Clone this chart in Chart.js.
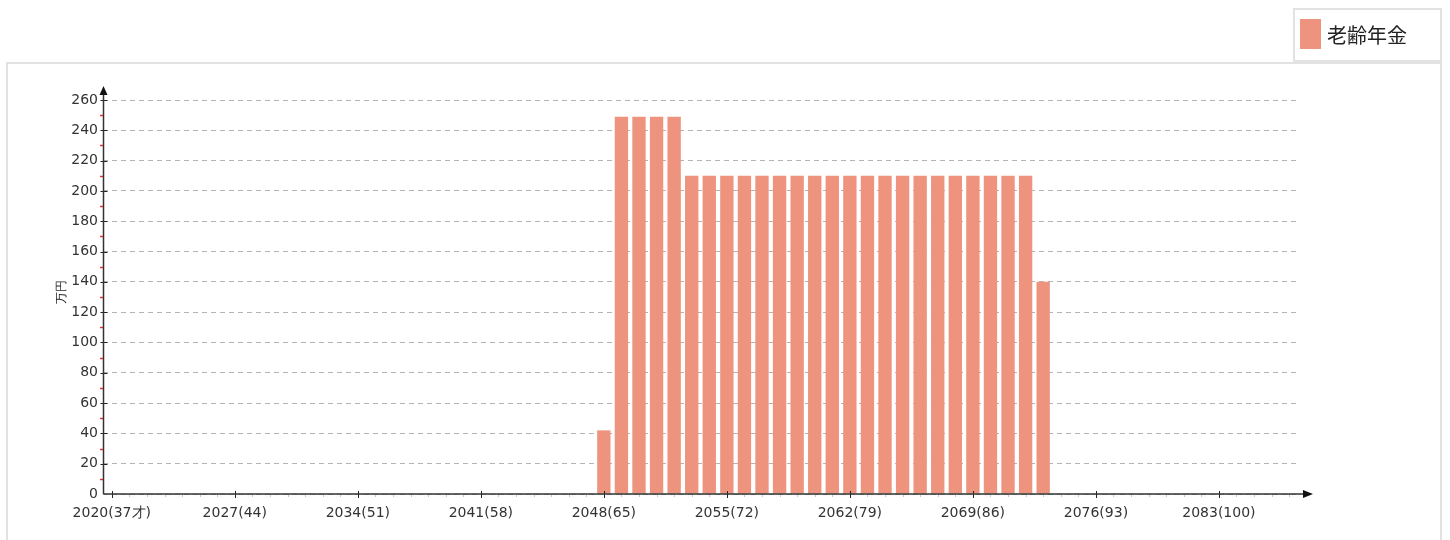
<!DOCTYPE html>
<html>
<head>
<meta charset="utf-8">
<script src="https://cdn.jsdelivr.net/npm/chart.js"></script>
<style>
  body { margin: 0; background: #fff; }
  #chart { display: block; }
</style>
</head>
<body>
<canvas id="chart" width="1450" height="540"></canvas>
<script>
// 年 (2020〜2087) と 年齢
const years = [
  2020, 2021, 2022, 2023, 2024, 2025, 2026, 2027, 2028, 2029, 2030, 2031, 2032, 2033,
  2034, 2035, 2036, 2037, 2038, 2039, 2040, 2041, 2042, 2043, 2044, 2045, 2046, 2047,
  2048, 2049, 2050, 2051, 2052, 2053, 2054, 2055, 2056, 2057, 2058, 2059, 2060, 2061,
  2062, 2063, 2064, 2065, 2066, 2067, 2068, 2069, 2070, 2071, 2072, 2073, 2074, 2075,
  2076, 2077, 2078, 2079, 2080, 2081, 2082, 2083, 2084, 2085, 2086, 2087
];
// x軸に表示するラベル (7年ごと)
const tickLabels = ['2020(37才)', '2027(44)', '2034(51)', '2041(58)', '2048(65)',
  '2055(72)', '2062(79)', '2069(86)', '2076(93)', '2083(100)'];
// 老齢年金 (万円)
const pension = [
  0, 0, 0, 0, 0, 0, 0, 0, 0, 0, 0, 0, 0, 0,
  0, 0, 0, 0, 0, 0, 0, 0, 0, 0, 0, 0, 0, 0,
  42, 249, 249, 249, 249, 210, 210, 210, 210, 210, 210, 210, 210, 210,
  210, 210, 210, 210, 210, 210, 210, 210, 210, 210, 210, 140, 0, 0,
  0, 0, 0, 0, 0, 0, 0, 0, 0, 0, 0, 0
];
const seriesName = '老齢年金';
const barColor = '#ee947e';

const FONT = 'DejaVu Sans, Verdana, sans-serif';

// 枠・軸・凡例を描く
const decor = {
  id: 'decor',
  beforeDraw(chart) {
    const ctx = chart.ctx;
    ctx.save();
    ctx.strokeStyle = '#e2e2e2';
    ctx.lineWidth = 2;
    ctx.strokeRect(7, 63, 1434, 500);
    ctx.restore();
  },
  afterDatasetsDraw(chart) {
    const ctx = chart.ctx;
    const x = chart.scales.x, y = chart.scales.y;
    const a = chart.chartArea;
    const ax = a.left + 0.5, ay = y.getPixelForValue(0);
    ctx.save();
    // minor ticks on x
    ctx.strokeStyle = '#c8c8c8';
    ctx.lineWidth = 1;
    years.forEach((yr, i) => {
      if (i % 7 === 0) return;
      const px = Math.round(x.getPixelForValue(i)) + 0.5;
      ctx.beginPath(); ctx.moveTo(px, ay); ctx.lineTo(px, ay + 3); ctx.stroke();
    });
    // red minor ticks on y
    ctx.strokeStyle = '#f03030';
    ctx.lineWidth = 1.5;
    for (let v = 10; v < 260; v += 20) {
      const py = Math.round(y.getPixelForValue(v)) + 0.5;
      ctx.beginPath(); ctx.moveTo(ax - 3.5, py); ctx.lineTo(ax, py); ctx.stroke();
    }
    // major ticks
    ctx.strokeStyle = '#222';
    ctx.lineWidth = 1;
    for (let v = 20; v <= 260; v += 20) {
      const py = Math.round(y.getPixelForValue(v)) + 0.5;
      ctx.beginPath(); ctx.moveTo(ax - 3, py); ctx.lineTo(ax + 4, py); ctx.stroke();
    }
    years.forEach((yr, i) => {
      if (i % 7 !== 0) return;
      const px = Math.round(x.getPixelForValue(i)) + 0.5;
      ctx.beginPath(); ctx.moveTo(px, ay - 3); ctx.lineTo(px, ay + 4); ctx.stroke();
    });
    // axis lines
    ctx.strokeStyle = '#333';
    ctx.lineWidth = 1.5;
    ctx.beginPath();
    ctx.moveTo(ax, ay); ctx.lineTo(ax, 93);
    ctx.moveTo(ax, ay); ctx.lineTo(1306, ay);
    ctx.stroke();
    ctx.fillStyle = '#111';
    ctx.beginPath();
    ctx.moveTo(ax, 86); ctx.lineTo(ax - 4, 95); ctx.lineTo(ax + 4, 95); ctx.closePath();
    ctx.fill();
    ctx.beginPath();
    ctx.moveTo(1313, ay); ctx.lineTo(1303, ay - 4); ctx.lineTo(1303, ay + 4); ctx.closePath();
    ctx.fill();
    // y axis title
    ctx.translate(62, 292);
    ctx.rotate(-Math.PI / 2);
    ctx.fillStyle = '#222';
    ctx.font = '12px ' + FONT;
    ctx.textAlign = 'center';
    ctx.textBaseline = 'middle';
    ctx.fillText('万円', 0, 0);
    ctx.restore();
  },
  afterDraw(chart) {
    const ctx = chart.ctx;
    ctx.save();
    ctx.fillStyle = '#fff';
    ctx.fillRect(1293, 8, 148, 53);
    ctx.strokeStyle = '#e2e2e2';
    ctx.lineWidth = 2;
    ctx.strokeRect(1294, 9, 147, 52);
    ctx.fillStyle = barColor;
    ctx.fillRect(1300, 19, 21, 30);
    ctx.fillStyle = '#222';
    ctx.font = '20px "Noto Sans CJK JP", sans-serif';
    ctx.textBaseline = 'middle';
    ctx.fillText(seriesName, 1327, 35);
    ctx.restore();
  }
};

new Chart(document.getElementById('chart'), {
  type: 'bar',
  data: {
    labels: years,
    datasets: [{
      label: seriesName,
      data: pension,
      backgroundColor: barColor,
      borderWidth: 0,
      categoryPercentage: 1,
      barPercentage: 0.76
    }]
  },
  options: {
    responsive: false,
    animation: false,
    layout: { padding: { top: 100, right: 152, left: 0, bottom: 0 } },
    plugins: { legend: { display: false }, tooltip: { enabled: false } },
    scales: {
      x: {
        afterFit: s => { s.height = 46; },
        grid: { display: false },
        border: { display: false },
        ticks: {
          autoSkip: false,
          maxRotation: 0,
          padding: 3,
          color: '#333',
          font: { family: FONT, size: 14 },
          callback: (v, i) => (i % 7 === 0 ? tickLabels[i / 7] : '')
        }
      },
      y: {
        min: 0,
        max: 260,
        afterFit: s => { s.width = 103; },
        border: { display: false, dash: [5, 4] },
        grid: {
          color: '#b4b4b4',
          lineWidth: 1,
          drawTicks: false
        },
        ticks: {
          stepSize: 20,
          padding: 5,
          color: '#333',
          font: { family: FONT, size: 14 }
        }
      }
    }
  },
  plugins: [decor]
});
</script>
</body>
</html>
